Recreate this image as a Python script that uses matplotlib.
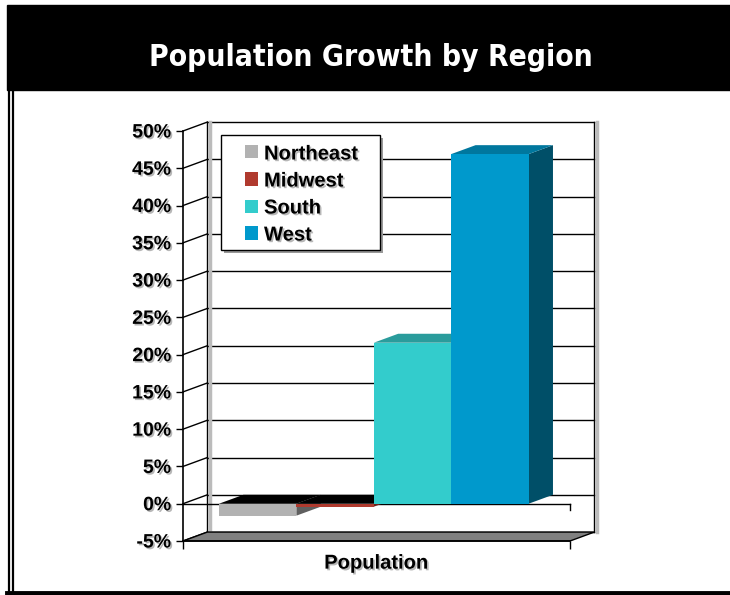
import numpy as np
import matplotlib

matplotlib.use("Agg")
import matplotlib.pyplot as plt
import matplotlib.patheffects as pe
from matplotlib.lines import Line2D
from matplotlib.patches import Rectangle
from matplotlib.ticker import FuncFormatter

# ---------------------------------------------------------------------------
# Data
# ---------------------------------------------------------------------------
regions = ["Northeast", "Midwest", "South", "West"]
growth = [-1.6, -0.4, 21.6, 46.9]          # percent change
category = "Population"
y_ticks = list(range(-5, 55, 5))

front_colors = ["#b2b2b2", "#b03a2e", "#33cccc", "#0099cc"]
top_colors = ["#000000", "#000000", "#2a9c9c", "#00779e"]   # negative bars show a black top
side_colors = ["#5f5f5f", "#6e2019", "#1f7a7a", "#004f68"]

# 3D depth (in data units: x axis spans 0..1, y axis in percent)
DX = 0.063
DY = 1.2
BAR_W = 0.2
GROUP_LEFT = 0.093

W, H = 730, 595
FONT = "Liberation Sans"
fig = plt.figure(figsize=(W / 100, H / 100), dpi=100)
fig.patch.set_facecolor("white")

ax = fig.add_axes([183 / W, 54 / H, 387 / W, 410 / H])
ax.set_xlim(0, 1)
ax.set_ylim(-5, 50)
ax.patch.set_alpha(0)
for s in ("top", "right"):
    ax.spines[s].set_visible(False)
for s in ("left", "bottom"):
    ax.spines[s].set_linewidth(1.2)
    ax.spines[s].set_zorder(20)

shadow = [pe.SimplePatchShadow(offset=(1.2, -1.2), shadow_rgbFace="#888888", alpha=0.6),
          pe.Normal()]

ax.set_yticks(y_ticks)
ax.yaxis.set_major_formatter(FuncFormatter(lambda v, _: f"{v:.0f}%"))
ax.tick_params(axis="y", length=5, width=1, pad=3.5, labelsize=14)
ax.set_xticks([0, 1])
ax.set_xticklabels(["", ""])
ax.tick_params(axis="x", length=6, width=1)
for lbl in ax.get_yticklabels():
    lbl.set_fontweight("bold")
    lbl.set_family(FONT)
    lbl.set_path_effects(shadow)

kw = dict(clip_on=False)

# back wall + left wall gridlines
for v in y_ticks:
    ax.plot([DX, 1 + DX], [v + DY, v + DY], color="black", lw=1, zorder=1, **kw)
    ax.plot([0, DX], [v, v + DY], color="black", lw=1, zorder=1, **kw)
# wall edges with soft shadow
for xe in (DX, 1 + DX):
    ax.plot([xe + 0.006, xe + 0.006], [-5 + DY, 50 + DY], color="#bbbbbb", lw=2.5, zorder=1, **kw)
    ax.plot([xe, xe], [-5 + DY, 50 + DY], color="black", lw=1, zorder=2, **kw)

# floor
ax.fill([0, 1, 1 + DX, DX], [-5, -5, -5 + DY, -5 + DY], facecolor="#808080",
        edgecolor="black", lw=1, zorder=3, **kw)

# front zero line with end tick
ax.plot([0, 1], [0, 0], color="black", lw=1, zorder=3, **kw)
ax.plot([1, 1], [0, -0.9], color="black", lw=1, zorder=3, **kw)

# bars, left to right so that each front face hides the previous side face
xs = GROUP_LEFT + np.arange(len(regions)) * BAR_W
for i, (x0, v) in enumerate(zip(xs, growth)):
    x1 = x0 + BAR_W
    z = 5 + i * 3
    ax.fill([x1, x1 + DX, x1 + DX, x1], [0, DY, v + DY, v],
            color=side_colors[i], lw=0, zorder=z, **kw)
    top = max(v, 0)
    ax.fill([x0, x1, x1 + DX, x0 + DX], [top, top, top + DY, top + DY],
            color=top_colors[i], lw=0, zorder=z + 1, **kw)
    ax.bar(x0, v, width=BAR_W, align="edge", color=front_colors[i], lw=0,
           zorder=z + 2, **kw)

# legend box drawn by hand (Excel-style wide padding), figure pixel coords
def px(x, y):
    return x / W, 1 - y / H

lx0, ly0, lx1, ly1 = 221, 135, 380, 250
fig.add_artist(Rectangle(px(lx0 + 3, ly1 + 3), (lx1 - lx0) / W, (ly1 - ly0) / H,
                         transform=fig.transFigure, facecolor="#999999",
                         edgecolor="none", zorder=29))
fig.add_artist(Rectangle(px(lx0, ly1), (lx1 - lx0) / W, (ly1 - ly0) / H,
                         transform=fig.transFigure, facecolor="white",
                         edgecolor="black", lw=1, zorder=30))
for i, name in enumerate(regions):
    yc = 152 + 27 * i
    fig.add_artist(Rectangle(px(245, yc + 6.5), 13 / W, 13 / H, transform=fig.transFigure,
                             facecolor=front_colors[i], edgecolor="none", zorder=31))
    fig.text(*px(264, yc), name, ha="left", va="center_baseline", fontsize=14.5,
             fontweight="bold", family=FONT, zorder=31, path_effects=shadow)

ax.text(0.4987, -0.054, category, transform=ax.transAxes, ha="center", va="center",
        fontsize=14.5, fontweight="bold", family=FONT, path_effects=shadow)

# title band and page frame
fig.patches.append(Rectangle((7 / W, 1 - 90 / H), 723 / W, 85 / H,
                             transform=fig.transFigure, color="black", zorder=0))
fig.text(371 / W, 1 - 57 / H, "Population Growth by Region", color="white",
         fontsize=21.5, fontweight="bold", fontstretch="condensed",
         ha="center", va="center", family="DejaVu Sans")
for xb in (8.5, 12.5):
    fig.add_artist(Line2D([xb / W, xb / W], [1 - 90 / H, 4 / H], color="black",
                          lw=1.6, transform=fig.transFigure))
fig.add_artist(Line2D([7 / W, 1], [2.5 / H, 2.5 / H], color="black", lw=3.5,
                      transform=fig.transFigure))

fig.savefig("out.png", dpi=100)
